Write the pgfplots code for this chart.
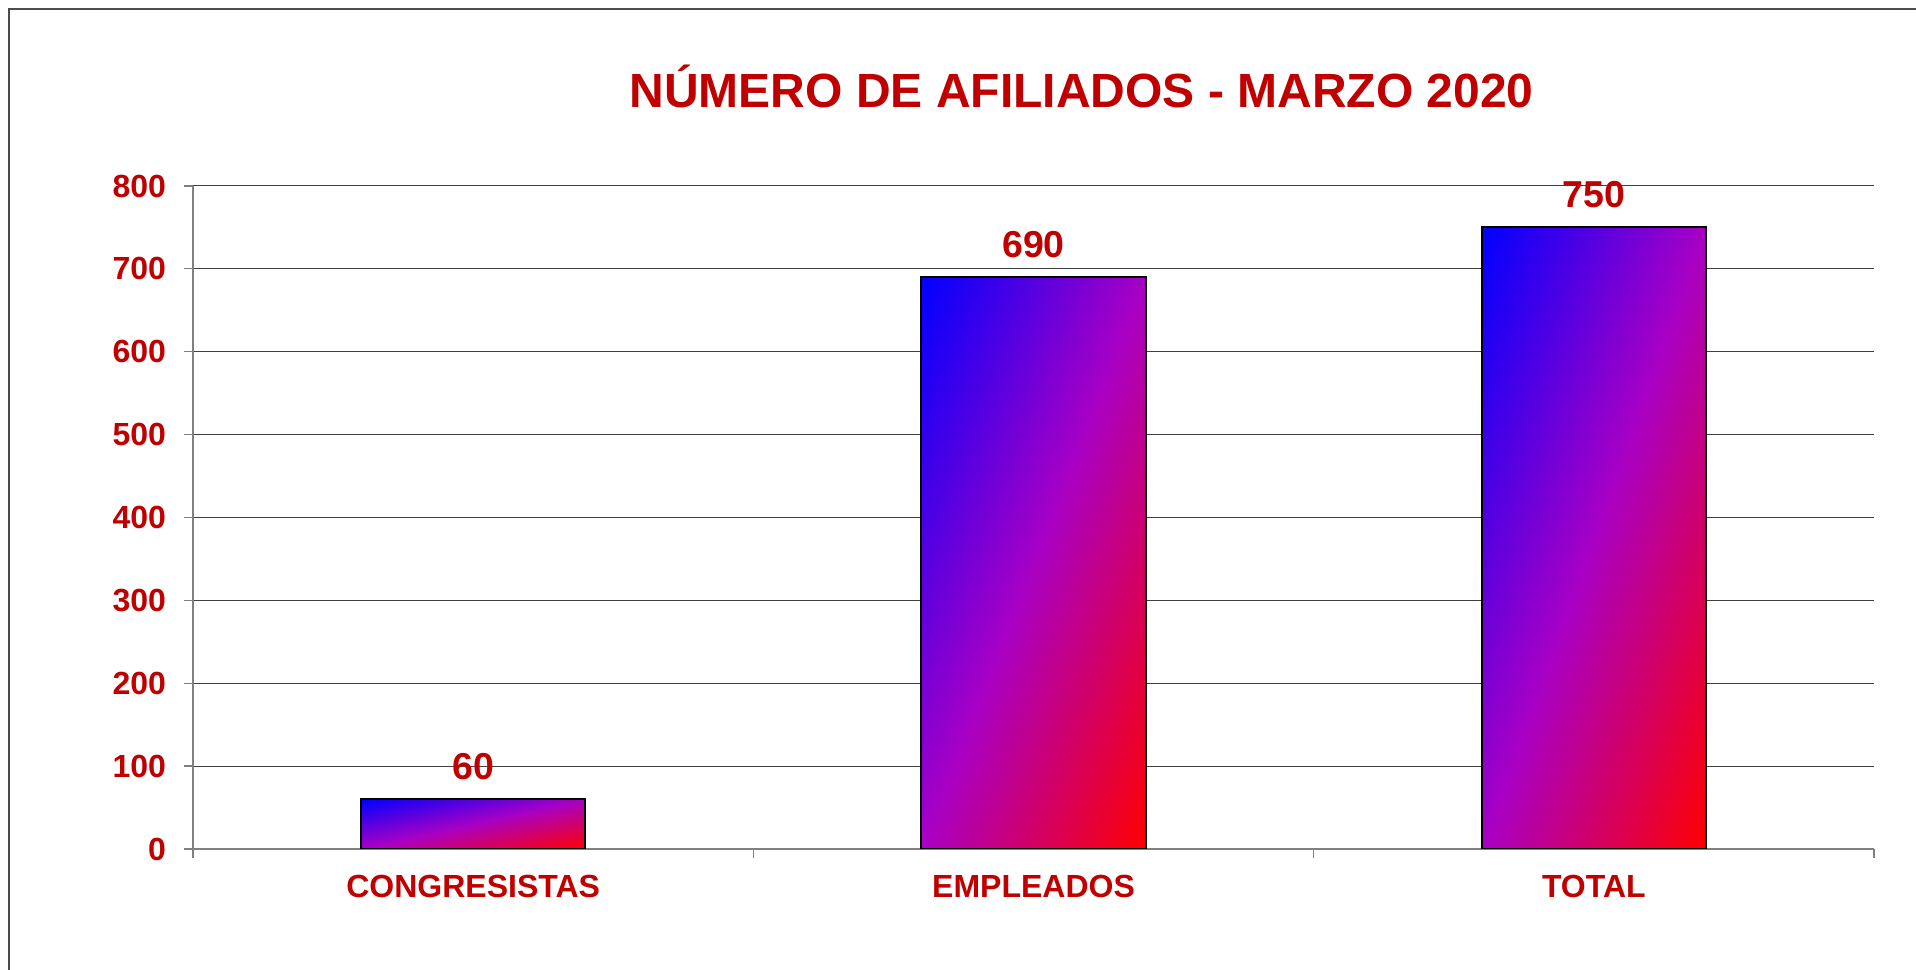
\documentclass[border=0pt]{standalone}
\usepackage{pgfplots}
\pgfplotsset{compat=1.18}
\usepackage{fontspec}
\setmainfont{Liberation Sans}
\definecolor{txtred}{RGB}{192,0,0}
% corner-to-corner gradient: blue top-left, violet along the other diagonal, red bottom-right
% (the middle 25..75bp square is what gets fitted onto each bar)
\pgfdeclarefunctionalshading{diagbar}{\pgfpoint{0bp}{0bp}}{\pgfpoint{100bp}{100bp}}{}{
  exch 25 sub exch 75 exch sub add 100 div
  dup 0 lt {pop 0} if dup 1 gt {pop 1} if
  dup 0.5 le {
    2 mul dup 0.659 mul exch 0 exch 0.231 mul 1 exch sub
  } {
    2 mul 1 sub dup 0.341 mul 0.659 add exch 0 exch 1 exch sub 0.769 mul
  } ifelse
}
\tikzset{gradbar/.style={bar shift=0pt, draw=black, line width=0.8pt, shade, shading=diagbar}}
\begin{document}
\begin{tikzpicture}[x=1pt,y=1pt]
\useasboundingbox (0,0) rectangle (766.4,388);
\draw[line width=0.5pt, black!70] (3.6,0) -- (3.6,384.4) -- (766.4,384.4);
\node[anchor=base, text=txtred, font=\fontsize{19.2}{19.2}\selectfont\bfseries]
  at (432.6,344.8) {NÚMERO DE AFILIADOS - MARZO 2020};
\begin{axis}[
  at={(77.2pt,48.4pt)}, anchor=south west,
  scale only axis, width=672.4pt, height=265.2pt,
  xmin=-0.5, xmax=2.5, ymin=0, ymax=800,
  ybar,
  axis lines*=left,
  axis line style={black!50, line width=0.5pt},
  tick align=outside,
  major tick length=3.6pt, minor tick length=3.6pt,
  xtick={0,1,2},
  xticklabels={CONGRESISTAS,EMPLEADOS,TOTAL},
  major x tick style={draw=none},
  minor xtick={-0.5,0.5,1.5,2.5},
  minor x tick style={black!50, line width=0.5pt},
  ytick={0,100,...,800},
  y tick style={black!50, line width=0.5pt},
  ymajorgrids,
  grid style={black!75, line width=0.4pt},
  /pgf/number format/assume math mode=true,
  xticklabel style={font=\fontsize{12.8}{12.8}\selectfont\bfseries, text=txtred, anchor=base, yshift=-15.8pt},
  yticklabel style={font=\fontsize{12.8}{12.8}\selectfont\bfseries, text=txtred, inner sep=0pt, xshift=-7pt},
  bar width=0.4,
  nodes near coords,
  every node near coord/.append style={font=\fontsize{15}{15}\selectfont\bfseries, text=txtred, anchor=base, yshift=7.8pt},
]
\addplot[gradbar] coordinates {(0,60)};
\addplot[gradbar] coordinates {(1,690)};
\addplot[gradbar] coordinates {(2,750)};
\end{axis}
\end{tikzpicture}
\end{document}
